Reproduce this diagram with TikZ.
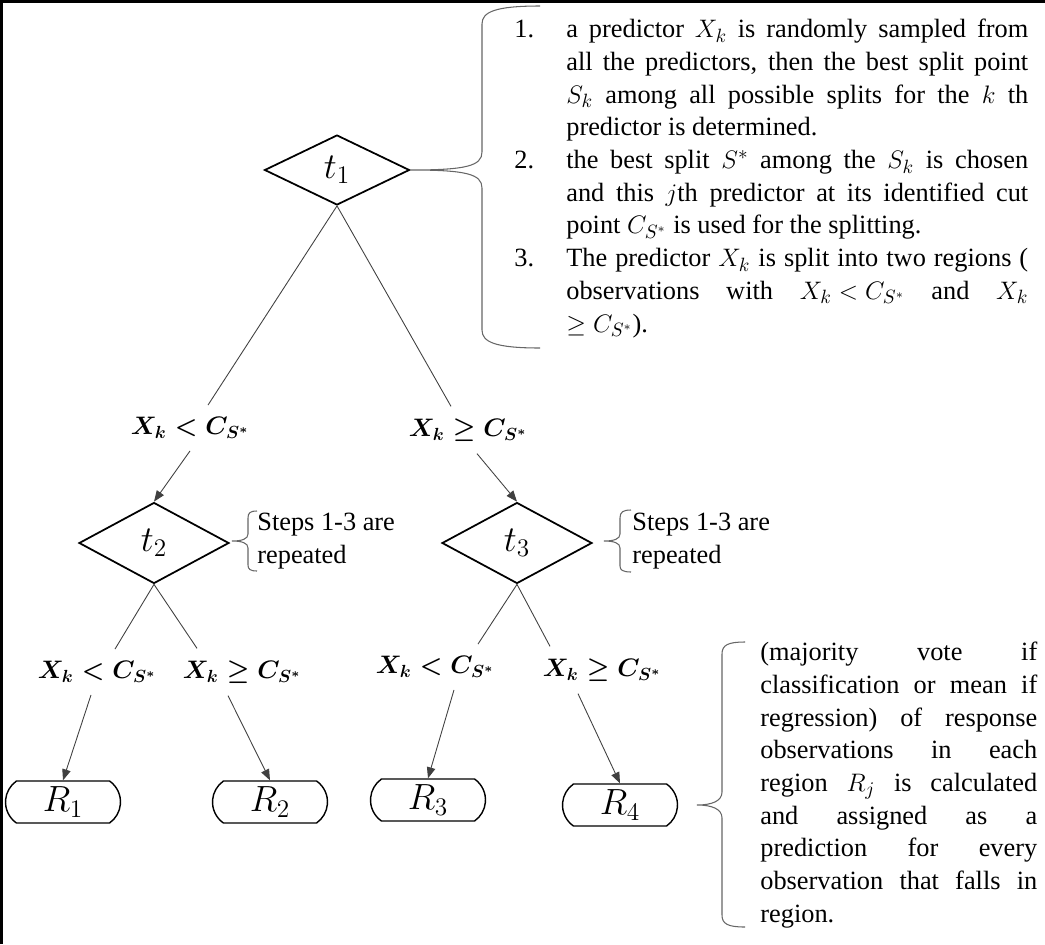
\documentclass[tikz,border=0pt]{standalone}
\usepackage{fontspec}
\setmainfont{Liberation Serif}
\usepackage{amsmath}
\usetikzlibrary{shapes.geometric,shapes.misc,arrows.meta}
\begin{document}
\begin{tikzpicture}[
      x=0.02cm, y=-0.02cm,
      every node/.style={font=\fontsize{15}{18.6}\selectfont},
      decision/.style={draw, diamond, line width=1pt, inner sep=0pt, minimum width=3cm, minimum height=1.62cm, font=\fontsize{21}{24}\selectfont},
      leaf/.style={draw, rounded rectangle, rounded rectangle arc length=110, line width=0.8pt, inner sep=0pt, minimum width=2.3cm, minimum height=0.84cm, font=\fontsize{20}{22}\selectfont},
      cond/.style={inner xsep=0pt, inner ysep=0.24cm, font=\fontsize{14.5}{17}\selectfont\boldmath},
      note/.style={inner sep=0pt, anchor=north west, align=justify},
      edge/.style={draw=black!75, line width=0.5pt},
      arr/.style={edge, -{Triangle[length=0.22cm,width=0.17cm]}},
      brc/.style={draw=black!60, line width=0.6pt}
    ]
      \useasboundingbox (0,0) rectangle (1045,944);
      % frame
      \draw[line width=1.5pt] (1.5,944) -- (1.5,1.5) -- (1045,1.5);

      % tree
      \node[decision, minimum width=2.9cm, minimum height=1.4cm] (t1) at (337,170) {$t_1$};
      \node[cond] (c1) at (190,428) {$X_k < C_{S^*}$};
      \node[cond] (c2) at (468,430) {$X_k \geq C_{S^*}$};
      \node[decision] (t2) at (154,543) {$t_2$};
      \node[decision] (t3) at (517,543) {$t_3$};
      \node[cond] (c3) at (97,672) {$X_k < C_{S^*}$};
      \node[cond] (c4) at (242,672) {$X_k \geq C_{S^*}$};
      \node[cond] (c5) at (435,667) {$X_k < C_{S^*}$};
      \node[cond] (c6) at (602,670) {$X_k \geq C_{S^*}$};
      \node[leaf] (r1) at (63,802) {$R_1$};
      \node[leaf] (r2) at (270,802) {$R_2$};
      \node[leaf] (r3) at (428,800) {$R_3$};
      \node[leaf] (r4) at (620,805) {$R_4$};

      \draw[edge] (t1.south) -- ([xshift=0.36cm]c1.north);
      \draw[edge] (t1.south) -- ([xshift=-0.34cm]c2.north);
      \draw[arr] (c1.south) -- (t2.north);
      \draw[arr] ([xshift=0.18cm]c2.south) -- (t3.north);
      \draw[edge] (t2.south) -- ([xshift=0.36cm]c3.north);
      \draw[edge] (t2.south) -- ([xshift=-0.9cm]c4.north);
      \draw[edge] (t3.south) -- ([xshift=0.86cm]c5.north);
      \draw[edge] (t3.south) -- ([xshift=-1.04cm]c6.north);
      \draw[arr] ([xshift=-0.12cm]c3.south) -- (r1.north);
      \draw[arr] ([xshift=-0.28cm]c4.south) -- (r2.north);
      \draw[arr] ([xshift=0.38cm]c5.south) -- (r3.north);
      \draw[arr] ([xshift=-0.48cm]c6.south) -- (r4.north);

      % braces
      \draw[brc] (540,6) .. controls (495,6) and (482,12) .. (482,24) -- (482,152)
        .. controls (482,166) and (466,170) .. (t1.east)
        .. controls (466,170) and (482,174) .. (482,188) -- (482,330)
        .. controls (482,342) and (495,348) .. (540,348);
      \draw[brc] (257,511) .. controls (250,511) and (248,513) .. (248,518) -- (248,534)
        .. controls (248,539) and (242,541) .. (232,541)
        .. controls (242,541) and (248,543) .. (248,548) -- (248,565)
        .. controls (248,569) and (250,571) .. (257,571);
      \draw[brc] (631,510) .. controls (623,510) and (620,512) .. (620,518) -- (620,534)
        .. controls (620,539) and (614,541) .. (604,541)
        .. controls (614,541) and (620,543) .. (620,548) -- (620,566)
        .. controls (620,570) and (623,572) .. (631,572);
      \draw[brc] (745,642) .. controls (728,642) and (722,645) .. (722,654) -- (722,792)
        .. controls (722,801) and (712,805) .. (697,805)
        .. controls (712,805) and (722,809) .. (722,818) -- (722,915)
        .. controls (722,924) and (728,927) .. (745,927);

      % texts
      \node[inner sep=0pt, anchor=west, align=left] (rep2) at (257,541) {Steps 1-3 are\\repeated};
      \node[inner sep=0pt, anchor=west, align=left] (rep3) at (632,541) {Steps 1-3 are\\repeated};
      \node[note, text width=10.28cm] (steps) at (514,19) {%
        \thickmuskip=5mu\relax
        \hangindent=1.04cm\hangafter=1\noindent\makebox[1.04cm][l]{1.}a predictor $X_k$ is randomly sampled from\linebreak
        all the predictors, then the best split point\linebreak
        $S_k$ among all possible splits for the $k$ th\linebreak
        predictor is determined.\par
        \hangindent=1.04cm\hangafter=1\noindent\makebox[1.04cm][l]{2.}the best split $S^*$ among the $S_k$ is chosen\linebreak
        and this $j$th predictor at its identified cut\linebreak
        point $C_{S^*}$ is used for the splitting.\par
        \hangindent=1.04cm\hangafter=1\noindent\makebox[1.04cm][l]{3.}The predictor $X_k$ is split into two regions (\linebreak
        observations with $X_k < C_{S^*}$ and $X_k$\linebreak
        $\geq C_{S^*}$).\par};
      \node[note, text width=5.54cm] (vote) at (760,642) {%
        (majority vote if\linebreak
        classification or mean if\linebreak
        regression) of response\linebreak
        observations in each\linebreak
        region $R_j$ is calculated\linebreak
        and assigned as a\linebreak
        prediction for every\linebreak
        observation that falls in\linebreak
        region.};
    \end{tikzpicture}
\end{document}
